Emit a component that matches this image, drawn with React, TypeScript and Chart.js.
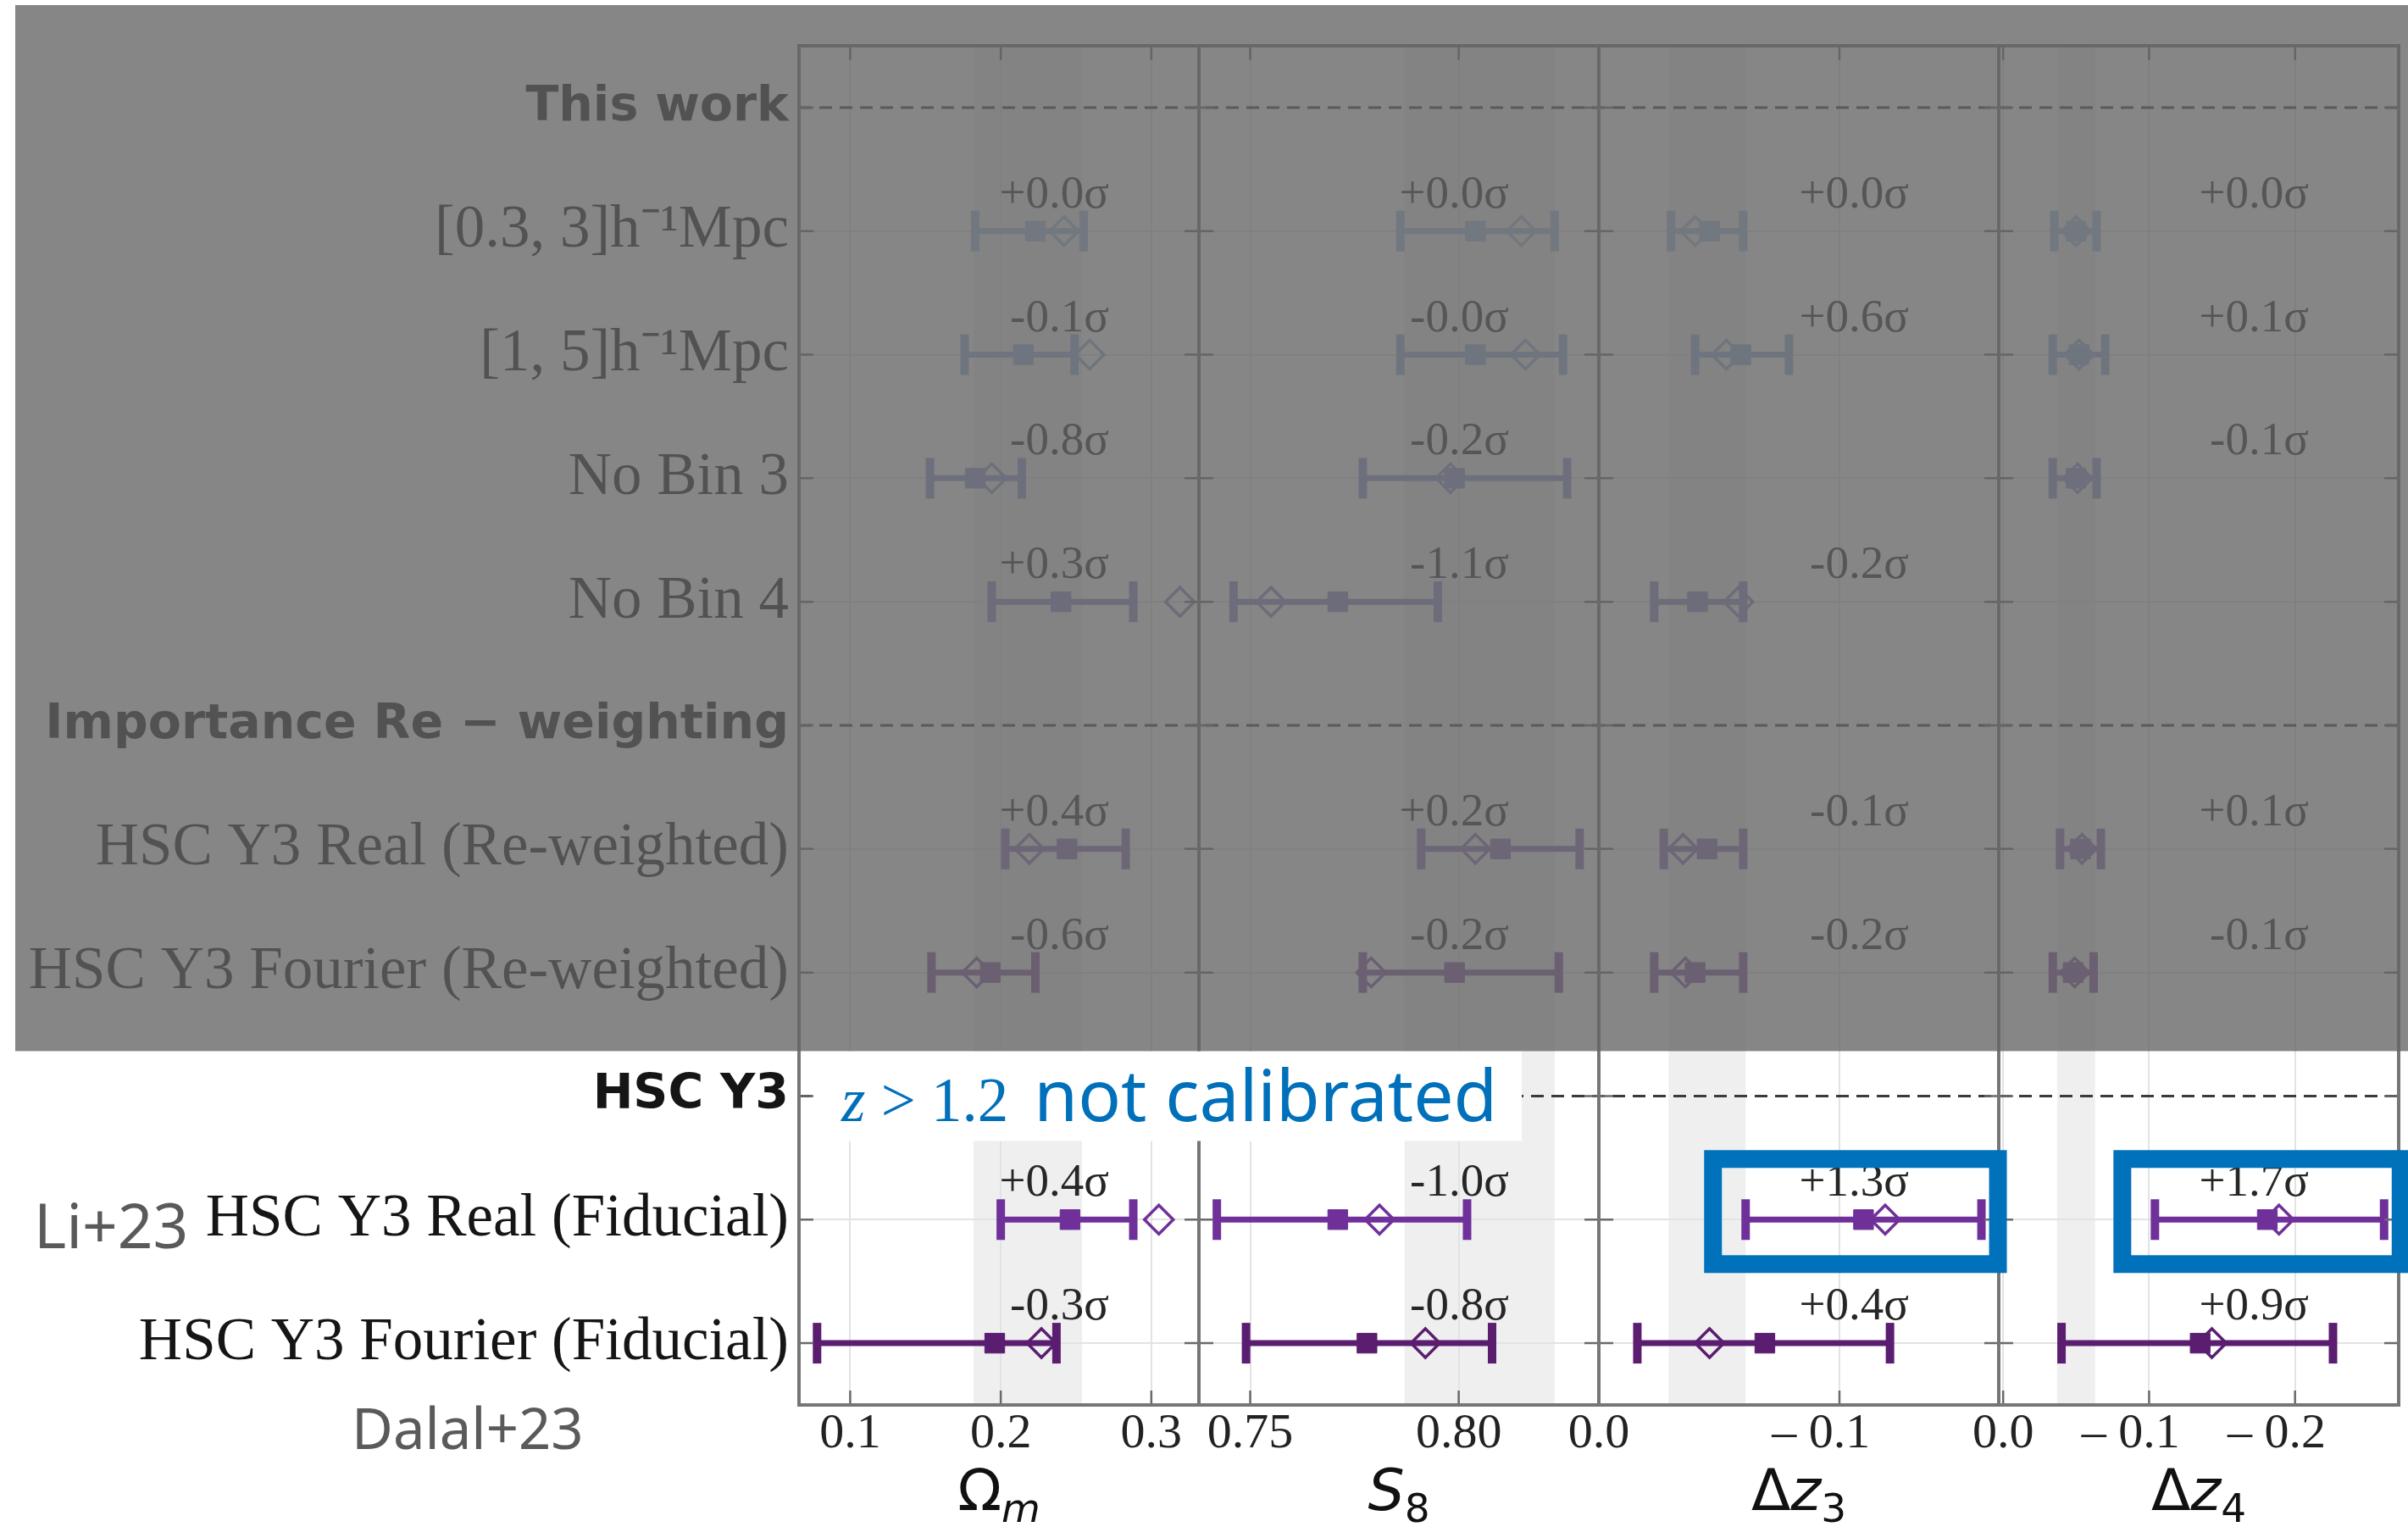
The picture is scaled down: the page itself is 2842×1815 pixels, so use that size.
import React, { useEffect, useRef } from 'react';
import { Chart, registerables } from 'chart.js';

Chart.register(...registerables);

const W = 2842;
const H = 1815;
const PLOT_RIGHT_PAD = 11;

// ---------- categories ----------
const CATEGORIES = [
  'This work',
  '[0.3, 3]h⁻¹Mpc',
  '[1, 5]h⁻¹Mpc',
  'No Bin 3',
  'No Bin 4',
  'Importance Re − weighting',
  'HSC Y3 Real (Re-weighted)',
  'HSC Y3 Fourier (Re-weighted)',
  'HSC Y3',
  'HSC Y3 Real (Fiducial)',
  'HSC Y3 Fourier (Fiducial)',
];
const HEADERS = ['This work', 'Importance Re − weighting', 'HSC Y3'];
const ROWS = CATEGORIES.filter((c) => !HEADERS.includes(c));
const ROW_COLORS = ['#a3bedd', '#97b0d8', '#8d9dcf', '#8b87c6', '#8a70b8', '#8650a6', '#70309a', '#5b1d70'];

// ---------- Omega_m ----------
const OM_LO = [0.183, 0.176, 0.153, 0.194, 0.203, 0.154, 0.2, 0.078];
const OM_HI = [0.255, 0.249, 0.214, 0.288, 0.283, 0.223, 0.288, 0.237];
const OM_BEST = [0.223, 0.215, 0.183, 0.24, 0.244, 0.193, 0.246, 0.196];
const OM_ALT = [0.242, 0.259, 0.194, 0.319, 0.219, 0.184, 0.305, 0.227];
const OM_SIGMA = ['+0.0σ', '-0.1σ', '-0.8σ', '+0.3σ', '+0.4σ', '-0.6σ', '+0.4σ', '-0.3σ'];
const OM_RANGE = [0.066, 0.3316];
const OM_BAND = [0.182, 0.254];
const OM_TICKS = [0.1, 0.2, 0.3];
const OM_TICK_LABELS = ['0.1', '0.2', '0.3'];
const OM_TITLE = [
  { text: 'Ω', italic: false, sub: false },
  { text: 'm', italic: true, sub: true },
];

// ---------- S8 ----------
const S8_LO = [0.786, 0.786, 0.777, 0.746, 0.791, 0.777, 0.742, 0.749];
const S8_HI = [0.823, 0.825, 0.826, 0.795, 0.829, 0.824, 0.802, 0.808];
const S8_BEST = [0.804, 0.804, 0.799, 0.771, 0.81, 0.799, 0.771, 0.778];
const S8_ALT = [0.815, 0.816, 0.798, 0.755, 0.804, 0.779, 0.781, 0.792];
const S8_SIGMA = ['+0.0σ', '-0.0σ', '-0.2σ', '-1.1σ', '+0.2σ', '-0.2σ', '-1.0σ', '-0.8σ'];
const S8_RANGE = [0.7377, 0.8336];
const S8_BAND = [0.787, 0.823];
const S8_TICKS = [0.75, 0.8];
const S8_TICK_LABELS = ['0.75', '0.80'];
const S8_TITLE = [
  { text: 'S', italic: true, sub: false },
  { text: '8', italic: false, sub: true },
];

// ---------- Delta z3 ----------
const DZ3_LO = [-0.03, -0.04, null, -0.023, -0.027, -0.023, -0.061, -0.016];
const DZ3_HI = [-0.06, -0.079, null, -0.06, -0.06, -0.06, -0.159, -0.121];
const DZ3_BEST = [-0.046, -0.059, null, -0.041, -0.045, -0.04, -0.11, -0.069];
const DZ3_ALT = [-0.04, -0.053, null, -0.058, -0.035, -0.036, -0.119, -0.046];
const DZ3_SIGMA = ['+0.0σ', '+0.6σ', '', '-0.2σ', '-0.1σ', '-0.2σ', '+1.3σ', '+0.4σ'];
const DZ3_RANGE = [-0.1662, 0];
const DZ3_BAND = [-0.029, -0.061];
const DZ3_TICKS = [0, -0.1];
const DZ3_TICK_LABELS = ['0.0', '– 0.1   '];
const DZ3_TITLE = [
  { text: 'Δ', italic: false, sub: false },
  { text: 'z', italic: true, sub: false },
  { text: '3', italic: false, sub: true },
];

// ---------- Delta z4 ----------
const DZ4_LO = [-0.035, -0.034, -0.034, null, -0.039, -0.034, -0.104, -0.04];
const DZ4_HI = [-0.064, -0.07, -0.064, null, -0.067, -0.062, -0.261, -0.226];
const DZ4_BEST = [-0.05, -0.052, -0.05, null, -0.053, -0.048, -0.181, -0.135];
const DZ4_ALT = [-0.05, -0.052, -0.051, null, -0.054, -0.049, -0.189, -0.143];
const DZ4_SIGMA = ['+0.0σ', '+0.1σ', '-0.1σ', '', '+0.1σ', '-0.1σ', '+1.7σ', '+0.9σ'];
const DZ4_RANGE = [-0.271, 0.003];
const DZ4_BAND = [-0.037, -0.063];
const DZ4_TICKS = [0, -0.1, -0.2];
const DZ4_TICK_LABELS = ['0.0', '– 0.1   ', '– 0.2   '];
const DZ4_TITLE = [
  { text: 'Δ', italic: false, sub: false },
  { text: 'z', italic: true, sub: false },
  { text: '4', italic: false, sub: true },
];

// ---------- annotations ----------
const NOTE_Z = 'z';
const NOTE_CUT = ' > 1.2';
const NOTE_TEXT = 'not calibrated';
const LEFT_NOTE_1 = 'Li+23';
const LEFT_NOTE_2 = 'Dalal+23';
const HIGHLIGHT_ROW = 'HSC Y3 Real (Fiducial)';

const PANELS = [
  { id: 'xOm', lo: OM_LO, hi: OM_HI, best: OM_BEST, alt: OM_ALT, sigma: OM_SIGMA, range: OM_RANGE, band: OM_BAND, ticks: OM_TICKS, tickLabels: OM_TICK_LABELS, title: OM_TITLE, reverse: false, highlight: false },
  { id: 'xS8', lo: S8_LO, hi: S8_HI, best: S8_BEST, alt: S8_ALT, sigma: S8_SIGMA, range: S8_RANGE, band: S8_BAND, ticks: S8_TICKS, tickLabels: S8_TICK_LABELS, title: S8_TITLE, reverse: false, highlight: false },
  { id: 'xDz3', lo: DZ3_LO, hi: DZ3_HI, best: DZ3_BEST, alt: DZ3_ALT, sigma: DZ3_SIGMA, range: DZ3_RANGE, band: DZ3_BAND, ticks: DZ3_TICKS, tickLabels: DZ3_TICK_LABELS, title: DZ3_TITLE, reverse: true, highlight: true },
  { id: 'xDz4', lo: DZ4_LO, hi: DZ4_HI, best: DZ4_BEST, alt: DZ4_ALT, sigma: DZ4_SIGMA, range: DZ4_RANGE, band: DZ4_BAND, ticks: DZ4_TICKS, tickLabels: DZ4_TICK_LABELS, title: DZ4_TITLE, reverse: true, highlight: true },
];

const SERIF = '"Liberation Serif", "Times New Roman", serif';
const SANS = '"DejaVu Sans", sans-serif';
const NOTE_SANS = '"Noto Sans", sans-serif';

const decorPlugin = {
  id: 'decor',
  afterLayout(chart: any) {
    // keep the four panels equal and spanning the full plot width
    const ca = chart.chartArea;
    const targetRight = chart.width - PLOT_RIGHT_PAD;
    ca.right = targetRight;
    ca.width = ca.right - ca.left;
    const w = ca.width / PANELS.length;
    PANELS.forEach((p, i) => {
      const s = chart.scales[p.id];
      s.left = ca.left + i * w;
      s.right = s.left + w;
      s.width = w;
      s.configure();
    });
  },
  beforeDraw(chart: any) {
    const { ctx, chartArea: ca } = chart;
    ctx.save();
    ctx.fillStyle = '#efefef';
    PANELS.forEach((p) => {
      const s = chart.scales[p.id];
      const a = s.getPixelForValue(p.band[0]);
      const b = s.getPixelForValue(p.band[1]);
      ctx.fillRect(Math.min(a, b), ca.top, Math.abs(b - a), ca.bottom - ca.top);
    });
    ctx.restore();
  },
  beforeDatasetsDraw(chart: any) {
    const { ctx, chartArea: ca } = chart;
    const y = chart.scales.y;
    ctx.save();
    ctx.strokeStyle = '#3a3a3a';
    ctx.lineWidth = 3;
    ctx.setLineDash([15, 9]);
    HEADERS.forEach((h) => {
      const py = y.getPixelForValue(CATEGORIES.indexOf(h));
      ctx.beginPath();
      ctx.moveTo(ca.left, py);
      ctx.lineTo(ca.right, py);
      ctx.stroke();
    });
    ctx.restore();
  },
  afterDatasetsDraw(chart: any) {
    const { ctx, chartArea: ca } = chart;
    const y = chart.scales.y;
    ctx.save();
    // ticks
    ctx.strokeStyle = '#6a6a6a';
    ctx.lineWidth = 2.5;
    const TL = 17;
    PANELS.forEach((p) => {
      const s = chart.scales[p.id];
      CATEGORIES.forEach((_, i) => {
        const py = y.getPixelForValue(i);
        ctx.beginPath();
        ctx.moveTo(s.left, py);
        ctx.lineTo(s.left + TL, py);
        ctx.moveTo(s.right - TL, py);
        ctx.lineTo(s.right, py);
        ctx.stroke();
      });
      p.ticks.forEach((v) => {
        const px = s.getPixelForValue(v);
        ctx.beginPath();
        ctx.moveTo(px, ca.top);
        ctx.lineTo(px, ca.top + TL);
        ctx.moveTo(px, ca.bottom - TL);
        ctx.lineTo(px, ca.bottom);
        ctx.stroke();
      });
    });
    // spines
    ctx.strokeStyle = '#767676';
    ctx.lineWidth = 4;
    PANELS.forEach((p) => {
      const s = chart.scales[p.id];
      ctx.strokeRect(s.left, ca.top, s.right - s.left, ca.bottom - ca.top);
    });
    // sigma labels
    ctx.fillStyle = '#262626';
    ctx.font = `55px ${SERIF}`;
    ctx.textAlign = 'right';
    ctx.textBaseline = 'alphabetic';
    PANELS.forEach((p) => {
      const s = chart.scales[p.id];
      const tx = s.left + 0.775 * (s.right - s.left);
      ROWS.forEach((row, i) => {
        if (!p.sigma[i]) return;
        const py = y.getPixelForValue(CATEGORIES.indexOf(row));
        ctx.fillText(p.sigma[i], tx, py - 28);
      });
    });
    // axis titles
    ctx.textAlign = 'left';
    ctx.fillStyle = '#111';
    PANELS.forEach((p) => {
      const s = chart.scales[p.id];
      const cx = (s.left + s.right) / 2;
      const base = 1782;
      const fontOf = (seg: any) => `${seg.italic ? 'italic ' : ''}${seg.sub ? 47 : 68}px ${SANS}`;
      let total = 0;
      p.title.forEach((seg: any) => {
        ctx.font = fontOf(seg);
        total += ctx.measureText(seg.text).width;
      });
      let x = cx - total / 2;
      p.title.forEach((seg: any) => {
        ctx.font = fontOf(seg);
        ctx.fillText(seg.text, x, base + (seg.sub ? 14 : 0));
        x += ctx.measureText(seg.text).width;
      });
    });
    ctx.restore();
  },
  afterDraw(chart: any) {
    const { ctx, chartArea: ca } = chart;
    const y = chart.scales.y;
    ctx.save();
    // white box with blue note on the HSC Y3 row
    const hy = y.getPixelForValue(CATEGORIES.indexOf('HSC Y3'));
    ctx.fillStyle = '#ffffff';
    ctx.fillRect(ca.left + 20, hy - 53, 1796 - (ca.left + 20), 106);
    ctx.fillStyle = '#0070ba';
    ctx.textBaseline = 'alphabetic';
    ctx.textAlign = 'left';
    let x = 993;
    const base = hy + 30;
    ctx.font = `italic 73px ${SERIF}`;
    ctx.fillText(NOTE_Z, x, base);
    x += ctx.measureText(NOTE_Z).width;
    ctx.font = `73px ${SERIF}`;
    ctx.fillText(NOTE_CUT, x, base);
    x += ctx.measureText(NOTE_CUT).width + 30;
    ctx.font = `84px ${NOTE_SANS}`;
    ctx.fillText(NOTE_TEXT, x, base);

    // gray overlay on the upper part
    ctx.fillStyle = 'rgba(100,100,100,0.78)';
    ctx.fillRect(18, 6, W - 18, hy - 53 - 6);

    // blue highlight boxes
    const ry = y.getPixelForValue(CATEGORIES.indexOf(HIGHLIGHT_ROW));
    const ri = ROWS.indexOf(HIGHLIGHT_ROW);
    ctx.strokeStyle = '#0072bb';
    ctx.lineWidth = 21;
    PANELS.filter((p) => p.highlight).forEach((p) => {
      const s = chart.scales[p.id];
      const a = s.getPixelForValue(p.lo[ri] as number);
      const b = s.getPixelForValue(p.hi[ri] as number);
      const l = Math.min(a, b) - 28 - 10.5;
      const r = Math.max(a, b) + 9 + 10.5;
      const t = ry - 61 - 10.5;
      const bt = ry + 42 + 10.5;
      ctx.strokeRect(l, t, r - l, bt - t);
    });

    // side notes
    ctx.fillStyle = '#5a5a5a';
    ctx.font = `73px ${NOTE_SANS}`;
    ctx.fillText(LEFT_NOTE_1, 40, ry + 34);
    ctx.font = `67px ${NOTE_SANS}`;
    ctx.fillText(LEFT_NOTE_2, 415, 1710);
    ctx.restore();
  },
};

function buildDatasets() {
  const datasets: any[] = [];
  PANELS.forEach((p) => {
    const altData: any[] = [];
    const altColors: string[] = [];
    const bestData: any[] = [];
    const bestColors: string[] = [];
    ROWS.forEach((row, i) => {
      if (p.alt[i] != null) {
        altData.push({ x: p.alt[i], y: row });
        altColors.push(ROW_COLORS[i]);
      }
      if (p.best[i] != null) {
        bestData.push({ x: p.best[i], y: row });
        bestColors.push(ROW_COLORS[i]);
      }
    });
    datasets.push({
      type: 'scatter',
      label: p.id + ' alt',
      xAxisID: p.id,
      yAxisID: 'y',
      data: altData,
      pointStyle: 'rectRot',
      pointRadius: 17,
      pointBorderWidth: 3.5,
      pointBorderColor: altColors,
      pointBackgroundColor: 'rgba(0,0,0,0)',
      order: 0,
    });
    datasets.push({
      type: 'scatter',
      label: p.id + ' best',
      xAxisID: p.id,
      yAxisID: 'y',
      data: bestData,
      pointStyle: 'rect',
      pointRadius: 16.5,
      pointBorderWidth: 1,
      pointBorderColor: bestColors,
      pointBackgroundColor: bestColors,
      order: 1,
    });
    ROWS.forEach((row, i) => {
      if (p.lo[i] == null || p.hi[i] == null) return;
      datasets.push({
        type: 'line',
        label: p.id + ' ' + row,
        xAxisID: p.id,
        yAxisID: 'y',
        data: [
          { x: p.lo[i], y: row },
          { x: p.hi[i], y: row },
        ],
        borderColor: ROW_COLORS[i],
        borderWidth: 7,
        pointStyle: 'line',
        pointRotation: 90,
        pointRadius: 24,
        pointBorderWidth: 10,
        pointBorderColor: ROW_COLORS[i],
        pointBackgroundColor: ROW_COLORS[i],
        order: 2,
      });
    });
  });
  return datasets;
}

function buildScales() {
  const scales: any = {
    y: {
      type: 'category',
      labels: CATEGORIES,
      offset: true,
      position: 'left',
      grid: {
        offset: false,
        drawTicks: false,
        lineWidth: 2,
        color: (c: any) => (HEADERS.includes(CATEGORIES[c.index]) ? 'rgba(0,0,0,0)' : '#e3e3e3'),
      },
      border: { display: false },
      ticks: {
        autoSkip: false,
        padding: 12,
        color: '#151515',
        font: (c: any) =>
          HEADERS.includes(CATEGORIES[c.index])
            ? { family: SANS, size: 57, weight: 'bold' }
            : { family: SERIF, size: 71 },
      },
      afterFit: (s: any) => {
        s.width = 943;
        s.paddingTop = 0;
        s.paddingBottom = 0;
      },
    },
  };
  PANELS.forEach((p) => {
    scales[p.id] = {
      type: 'linear',
      position: 'bottom',
      stack: 'panels',
      stackWeight: 1,
      min: p.range[0],
      max: p.range[1],
      reverse: p.reverse,
      grid: { drawTicks: false, lineWidth: 2, color: '#e3e3e3' },
      border: { display: false },
      ticks: {
        autoSkip: false,
        maxRotation: 0,
        minRotation: 0,
        padding: 0,
        color: '#222',
        font: { family: SERIF, size: 58 },
        callback: (_v: any, i: number) => p.tickLabels[i],
      },
      afterBuildTicks: (s: any) => {
        s.ticks = p.ticks.map((v) => ({ value: v }));
      },
      afterFit: (s: any) => {
        s.height = 157;
        s.paddingLeft = 0;
        s.paddingRight = 0;
      },
    };
  });
  return scales;
}

export default function App() {
  const ref = useRef<HTMLCanvasElement | null>(null);
  useEffect(() => {
    if (!ref.current) return;
    const chart = new Chart(ref.current, {
      type: 'scatter',
      data: { datasets: buildDatasets() },
      options: {
        responsive: false,
        maintainAspectRatio: false,
        devicePixelRatio: 1,
        animation: false,
        layout: { padding: { top: 54, right: PLOT_RIGHT_PAD, left: 0, bottom: 0 } },
        plugins: { legend: { display: false }, tooltip: { enabled: false } },
        scales: buildScales(),
      } as any,
      plugins: [decorPlugin as any],
    });
    return () => chart.destroy();
  }, []);
  return (
    <div style={{ position: 'fixed', left: 0, top: 0, width: W, height: H, background: '#fff' }}>
      <canvas ref={ref} width={W} height={H} style={{ width: W, height: H, display: 'block' }} />
    </div>
  );
}
